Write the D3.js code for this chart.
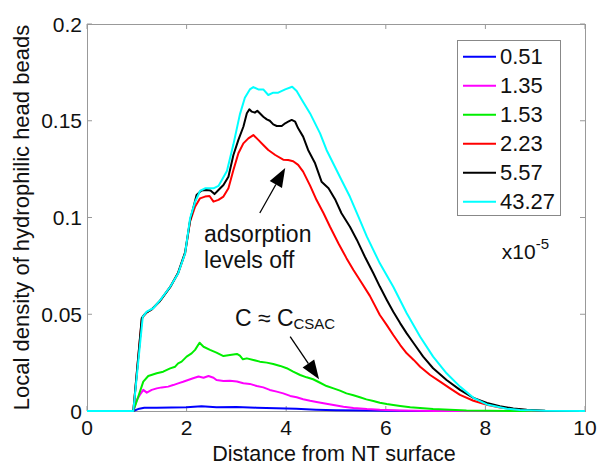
<!DOCTYPE html>
<html>
<head>
<meta charset="utf-8">
<script src="https://cdn.jsdelivr.net/npm/d3@7"></script>
<style>
  body { margin: 0; background: #fff; }
  text { font-family: "Liberation Sans", Arial, Helvetica, sans-serif; fill: #111; }
</style>
</head>
<body>
<div id="container"></div>
<script>
// series values: [distance, density]
var blue = [[0,0],[0.93,0],[1.05,0.0012],[1.15,0.0017],[1.4,0.0017],[1.7,0.0018],[2.0,0.002],[2.3,0.0025],[2.6,0.002],[3.0,0.0021],[3.4,0.0017],[3.8,0.0014],[4.2,0.0011],[4.6,0.0007],[5.0,0.0004],[5.6,0.0002],[6.5,0],[10,0]];
var magenta = [[0,0],[0.93,0],[1.0,0.0057],[1.06,0.0083],[1.13,0.0109],[1.2,0.0095],[1.3,0.0109],[1.4,0.0117],[1.5,0.0122],[1.63,0.0126],[1.73,0.0134],[1.83,0.0143],[1.93,0.0151],[2.03,0.016],[2.13,0.0169],[2.24,0.0178],[2.34,0.0172],[2.44,0.0181],[2.54,0.0172],[2.6,0.016],[2.74,0.0155],[2.87,0.0156],[3.01,0.0152],[3.14,0.0143],[3.27,0.014],[3.41,0.0129],[3.54,0.0122],[3.67,0.0109],[3.81,0.01],[3.94,0.0091],[4.08,0.0078],[4.21,0.0071],[4.34,0.0061],[4.48,0.0053],[4.61,0.0047],[4.75,0.004],[4.95,0.0031],[5.15,0.0022],[5.35,0.0016],[5.62,0.001],[5.88,0.0006],[6.28,0.0003],[7,0],[10,0]];
var green = [[0,0],[0.93,0],[1.03,0.0074],[1.13,0.0152],[1.23,0.0181],[1.4,0.0195],[1.53,0.0203],[1.67,0.022],[1.77,0.0229],[1.83,0.0246],[1.9,0.0255],[2.0,0.0281],[2.1,0.0298],[2.17,0.0316],[2.26,0.0353],[2.34,0.0332],[2.47,0.0316],[2.6,0.0302],[2.74,0.0284],[2.87,0.0289],[3.01,0.0295],[3.07,0.0286],[3.13,0.0267],[3.21,0.0272],[3.34,0.0264],[3.47,0.0255],[3.61,0.025],[3.74,0.0243],[3.88,0.0233],[4.01,0.0221],[4.14,0.0203],[4.28,0.0186],[4.41,0.0174],[4.54,0.0164],[4.68,0.0146],[4.81,0.0129],[4.95,0.0117],[5.08,0.0105],[5.21,0.0091],[5.35,0.0081],[5.48,0.0071],[5.61,0.006],[5.75,0.0052],[5.88,0.0043],[6.02,0.0036],[6.15,0.0031],[6.29,0.0026],[6.49,0.0019],[6.95,0.001],[7.62,0.0003],[8.5,0],[10,0]];
var red = [[0,0],[0.93,0],[1.1,0.0475],[1.14,0.0492],[1.2,0.051],[1.3,0.0525],[1.47,0.057],[1.67,0.0642],[1.83,0.0712],[1.97,0.0815],[2.07,0.098],[2.17,0.1056],[2.27,0.1099],[2.37,0.1108],[2.46,0.1111],[2.54,0.1082],[2.64,0.1091],[2.74,0.1108],[2.84,0.1151],[2.94,0.1245],[3.04,0.1332],[3.14,0.1383],[3.24,0.1409],[3.34,0.1426],[3.44,0.1401],[3.54,0.1375],[3.64,0.1349],[3.78,0.1323],[3.94,0.1299],[4.04,0.1297],[4.14,0.1291],[4.24,0.1272],[4.34,0.1237],[4.48,0.1165],[4.61,0.109],[4.75,0.1022],[4.88,0.0952],[5.05,0.0866],[5.21,0.079],[5.35,0.0729],[5.52,0.066],[5.68,0.0595],[5.88,0.0496],[6.02,0.0444],[6.15,0.0393],[6.29,0.0341],[6.42,0.0298],[6.56,0.0264],[6.69,0.0229],[6.89,0.0186],[7.09,0.0152],[7.29,0.0117],[7.49,0.0083],[7.76,0.0053],[8.03,0.0032],[8.29,0.0018],[8.56,0.001],[8.83,0.0004],[9.2,0],[10,0]];
var black = [[0,0],[0.93,0],[1.1,0.048],[1.14,0.0495],[1.2,0.051],[1.3,0.0525],[1.47,0.057],[1.67,0.064],[1.83,0.0715],[1.97,0.082],[2.07,0.0985],[2.2,0.1116],[2.3,0.1139],[2.4,0.1142],[2.48,0.1139],[2.56,0.1121],[2.64,0.1142],[2.74,0.1168],[2.84,0.1211],[2.94,0.1323],[3.04,0.1401],[3.14,0.1469],[3.21,0.1539],[3.26,0.1559],[3.31,0.1547],[3.37,0.1542],[3.42,0.1552],[3.47,0.1539],[3.54,0.1521],[3.61,0.1507],[3.67,0.15],[3.74,0.1481],[3.81,0.1473],[3.91,0.1473],[3.98,0.1487],[4.04,0.1495],[4.11,0.1504],[4.18,0.1495],[4.24,0.1461],[4.34,0.1418],[4.44,0.1349],[4.58,0.128],[4.71,0.1185],[4.85,0.1151],[4.99,0.109],[5.11,0.1022],[5.28,0.0952],[5.42,0.0884],[5.58,0.0797],[5.75,0.0712],[5.88,0.0643],[6.02,0.0574],[6.15,0.0513],[6.29,0.0453],[6.42,0.0401],[6.56,0.035],[6.75,0.0281],[6.95,0.0221],[7.22,0.016],[7.49,0.0109],[7.76,0.0068],[8.03,0.0042],[8.29,0.0025],[8.56,0.0013],[8.83,0.0006],[9.2,0.0001],[10,0]];
var cyan = [[0,0],[0.93,0],[1.12,0.0487],[1.2,0.0513],[1.33,0.0531],[1.47,0.0573],[1.67,0.0642],[1.83,0.0711],[1.97,0.0814],[2.07,0.0996],[2.17,0.108],[2.27,0.1137],[2.37,0.1151],[2.54,0.1151],[2.64,0.1163],[2.81,0.124],[2.94,0.1378],[3.07,0.1533],[3.17,0.1619],[3.27,0.1662],[3.34,0.1674],[3.44,0.1662],[3.54,0.1662],[3.64,0.1633],[3.74,0.1645],[3.84,0.1645],[3.98,0.1662],[4.12,0.1676],[4.21,0.1654],[4.31,0.161],[4.48,0.1538],[4.68,0.1435],[4.81,0.1349],[5.11,0.1194],[5.28,0.1107],[5.45,0.1004],[5.62,0.0901],[5.88,0.0763],[6.15,0.0642],[6.42,0.0505],[6.69,0.0384],[6.95,0.0281],[7.22,0.0195],[7.49,0.0126],[7.76,0.0068],[8.03,0.0034],[8.43,0.0012],[8.69,0.0005],[9.2,0.0001],[10,0]];

var seriesNames = ['0.51', '1.35', '1.53', '2.23', '5.57', '43.27'];
var seriesColors = ['#0000ff', '#ff00ff', '#00ee00', '#ff0000', '#000000', '#00ffff'];
var xTicks = [0, 2, 4, 6, 8, 10];
var yTicks = [0, 0.05, 0.1, 0.15, 0.2];

function drawChart(id, width, height){
    var left = 87, right = 585, top = 24, bottom = 411;
    var allSeries = [blue, magenta, green, red, black, cyan];

    var svg = d3.select('#'+id)
        .append('svg')
        .attr('width', width)
        .attr('height', height);

    var x = d3.scaleLinear().domain([0, 10]).range([left, right]);
    var y = d3.scaleLinear().domain([0, 0.2]).range([bottom, top]);

    // ticks point inwards on all four sides, like matlab does
    var tickLen = 5;
    var frame = svg.append('g').attr('stroke', '#999').attr('stroke-width', 1).attr('fill', 'none');
    xTicks.forEach(function(t){
        frame.append('line').attr('x1', x(t)).attr('x2', x(t)).attr('y1', bottom).attr('y2', bottom-tickLen);
        frame.append('line').attr('x1', x(t)).attr('x2', x(t)).attr('y1', top).attr('y2', top+tickLen);
    });
    yTicks.forEach(function(t){
        frame.append('line').attr('x1', left).attr('x2', left+tickLen).attr('y1', y(t)).attr('y2', y(t));
        frame.append('line').attr('x1', right).attr('x2', right-tickLen).attr('y1', y(t)).attr('y2', y(t));
    });

    var line = d3.line().x(function(d){ return x(d[0]); }).y(function(d){ return y(d[1]); });
    for(var i = 0; i < allSeries.length; i++){
        svg.append('path')
            .datum(allSeries[i])
            .attr('d', line)
            .attr('fill', 'none')
            .attr('stroke', seriesColors[i])
            .attr('stroke-width', 2)
            .attr('stroke-linejoin', 'round');
    }

    frame.append('rect')
        .attr('x', left+0.5).attr('y', top+0.5)
        .attr('width', right-left).attr('height', bottom-top);

    // tick labels
    xTicks.forEach(function(t){
        svg.append('text')
            .attr('x', x(t)).attr('y', bottom+24)
            .attr('text-anchor', 'middle')
            .attr('font-size', 21)
            .text(t);
    });
    yTicks.forEach(function(t){
        svg.append('text')
            .attr('x', left-5).attr('y', y(t)+7.5)
            .attr('text-anchor', 'end')
            .attr('font-size', 21)
            .text(t);
    });

    svg.append('text')
        .attr('x', (left+right)/2-2).attr('y', 461)
        .attr('text-anchor', 'middle')
        .attr('font-size', 21.5)
        .text('Distance from NT surface');
    svg.append('text')
        .attr('transform', 'translate(29,' + ((top+bottom)/2) + ') rotate(-90)')
        .attr('text-anchor', 'middle')
        .attr('font-size', 22)
        .text('Local density of hydrophilic head beads');

    // legend
    var lg = svg.append('g');
    lg.append('rect')
        .attr('x', 457.5).attr('y', 40.5)
        .attr('width', 103).attr('height', 175)
        .attr('fill', '#fff').attr('stroke', '#888');
    for(i = 0; i < seriesNames.length; i++){
        var ly = 56.7 + i*29;
        lg.append('line')
            .attr('x1', 463).attr('x2', 496)
            .attr('y1', ly).attr('y2', ly)
            .attr('stroke', seriesColors[i]).attr('stroke-width', 2);
        lg.append('text')
            .attr('x', 500).attr('y', ly+7.5)
            .attr('font-size', 22)
            .text(seriesNames[i]);
    }

    // annotations
    svg.append('text').attr('x', x(2.35)).attr('y', y(0.0875)).attr('font-size', 23).text('adsorption');
    svg.append('text').attr('x', x(2.35)).attr('y', y(0.0739)).attr('font-size', 23).text('levels off');
    arrow(svg, x(3.47), y(0.1023), x(3.98), y(0.1256));

    var c = svg.append('text').attr('x', x(2.97)).attr('y', y(0.0439)).attr('font-size', 23);
    c.append('tspan').text('C \u2248 C');
    c.append('tspan').attr('font-size', 15).attr('dy', 3).text('CSAC');
    arrow(svg, x(4.08), y(0.0384), x(4.66), y(0.0164));

    var e = svg.append('text').attr('x', x(8.33)).attr('y', y(0.0786)).attr('font-size', 21);
    e.append('tspan').text('x10');
    e.append('tspan').attr('font-size', 15).attr('dy', -10).text('-5');
}

function arrow(svg, x1, y1, x2, y2){
    var headLen = 19, headW = 7;
    var a = Math.atan2(y2-y1, x2-x1);
    var bx = x2 - headLen*Math.cos(a), by = y2 - headLen*Math.sin(a);
    svg.append('line')
        .attr('x1', x1).attr('y1', y1).attr('x2', bx).attr('y2', by)
        .attr('stroke', '#000').attr('stroke-width', 1.3);
    var px = -Math.sin(a)*headW, py = Math.cos(a)*headW;
    svg.append('path')
        .attr('d', 'M'+x2+','+y2+'L'+(bx+px)+','+(by+py)+'L'+(bx-px)+','+(by-py)+'Z')
        .attr('fill', '#000');
}

drawChart('container', 598, 466);
</script>
</body>
</html>
